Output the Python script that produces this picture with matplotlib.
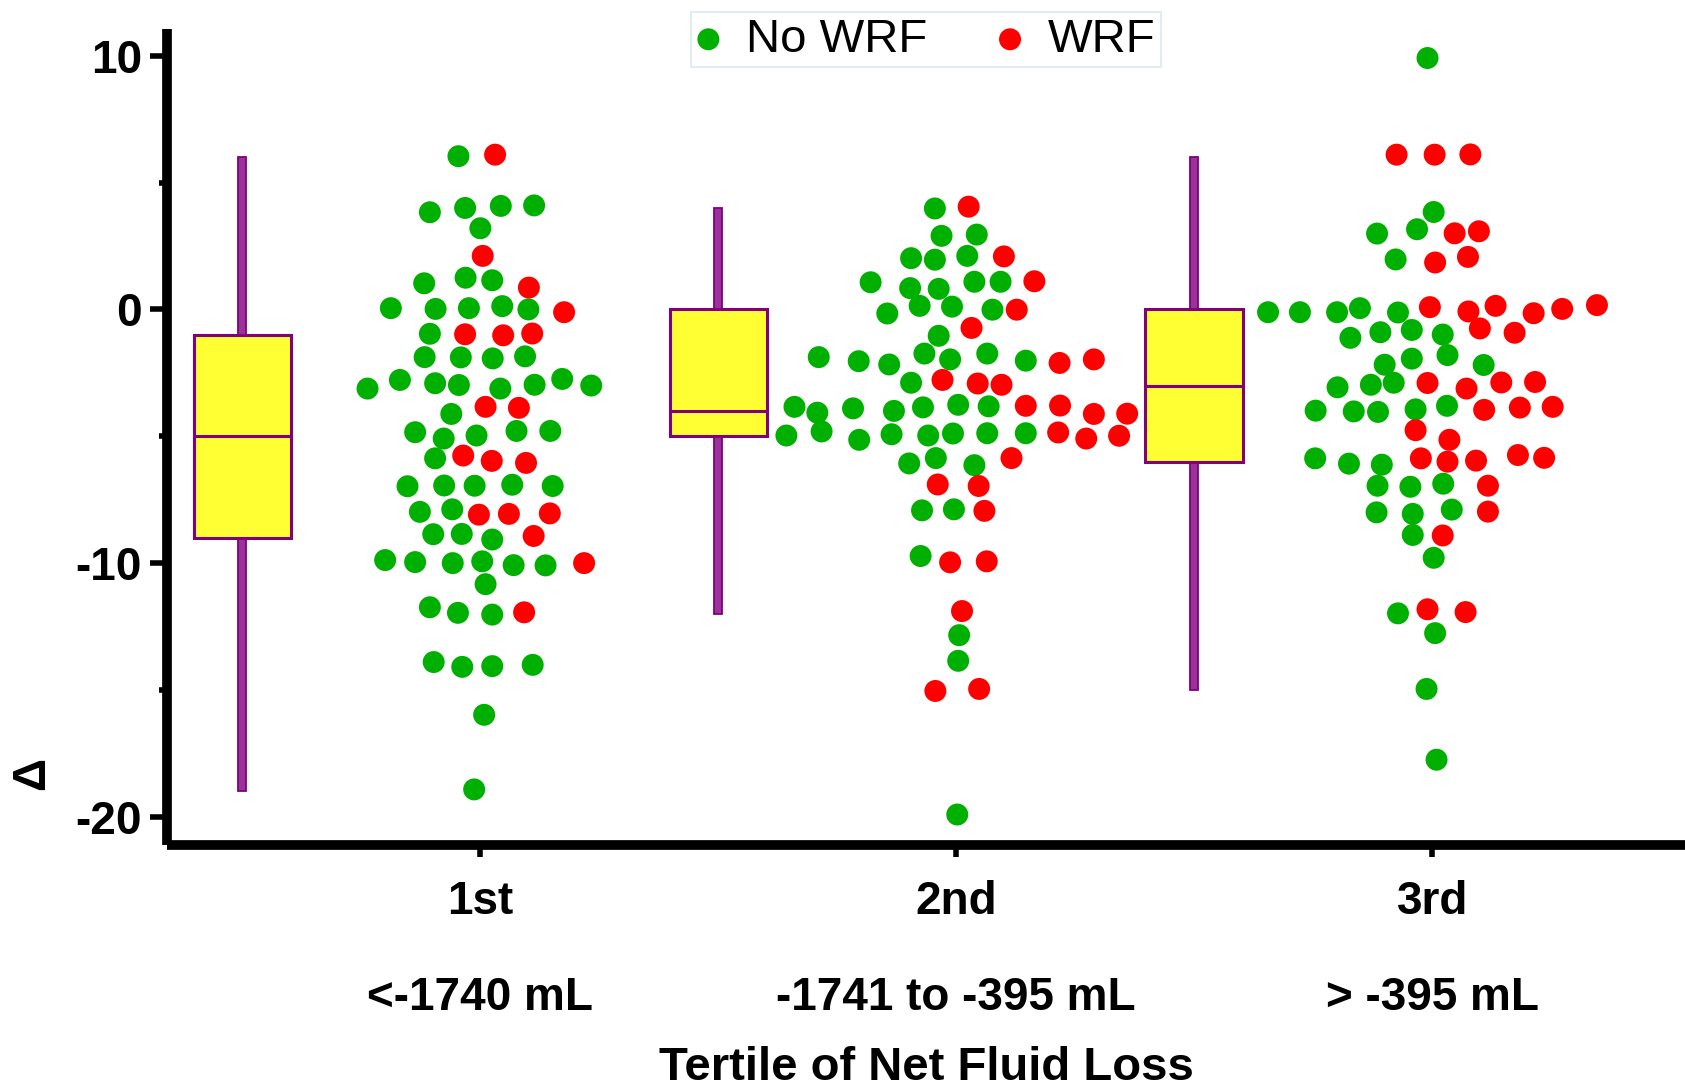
import matplotlib
matplotlib.use('Agg')
import matplotlib.pyplot as plt
import numpy as np
from matplotlib.ticker import MultipleLocator

plt.rcParams['font.family'] = ['Liberation Sans', 'DejaVu Sans']
plt.rcParams['axes.unicode_minus'] = False

categories = ['1st', '2nd', '3rd']
ranges = ['<-1740 mL', '-1741 to -395 mL', '> -395 mL']
series_names = ['No WRF', 'WRF']

# Box summary per tertile (drawn left of each swarm)
box_q1 = [-9, -5, -6]
box_med = [-5, -4, -3]
box_q3 = [-1, 0, 0]
whisk_lo = [-19, -12, -15]
whisk_hi = [6, 4, 6]

# Tertile 1 - No WRF: values and horizontal swarm offsets
t1_no_y = [6.04, 3.83, 4.00, 4.08, 4.10, 3.20, 1.03, 1.25, 1.15, 0.05, 0.02, 0.05, 0.13, 0.00,
           -0.96, -1.88, -1.89, -1.93, -1.85, -3.12, -2.78, -2.91, -2.98, -3.12, -2.97, -2.74,
           -3.00, -4.12, -4.84, -5.09, -4.97, -4.79, -4.79, -5.87, -6.97, -6.94, -6.95, -6.91,
           -6.96, -7.98, -7.88, -8.86, -8.85, -9.07, -9.88, -9.96, -10.00, -9.93, -10.08, -10.09,
           -10.83, -11.74, -11.96, -12.03, -13.90, -14.09, -14.06, -14.01, -15.98, -18.92]
t1_no_dx = [-0.046, -0.106, -0.032, 0.043, 0.113, 0.000, -0.118, -0.031, 0.025, -0.188, -0.094,
            -0.024, 0.046, 0.101, -0.106, -0.117, -0.041, 0.026, 0.094, -0.237, -0.169, -0.095,
            -0.045, 0.042, 0.114, 0.172, 0.233, -0.061, -0.137, -0.077, -0.008, 0.076, 0.147,
            -0.095, -0.153, -0.076, -0.012, 0.067, 0.152, -0.127, -0.059, -0.099, -0.039, 0.025,
            -0.200, -0.137, -0.058, 0.004, 0.070, 0.137, 0.011, -0.106, -0.047, 0.025, -0.098,
            -0.038, 0.025, 0.110, 0.008, -0.013]
# Tertile 1 - WRF
t1_wrf_y = [6.10, 2.11, 0.86, -0.11, -0.98, -1.02, -0.95, -3.84, -3.88, -5.76, -5.97, -6.05,
            -8.09, -8.06, -8.04, -8.93, -10.00, -11.94]
t1_wrf_dx = [0.031, 0.005, 0.102, 0.176, -0.032, 0.048, 0.109, 0.011, 0.081, -0.036, 0.024,
             0.096, -0.003, 0.060, 0.146, 0.112, 0.218, 0.092]

# Tertile 2 - No WRF
t2_no_y = [3.98, 2.90, 2.95, 2.02, 1.96, 2.11, 1.07, 0.84, 0.81, 1.09, 1.09, -0.16, 0.14, 0.11,
           -0.01, -1.04, -1.88, -2.04, -2.17, -1.74, -1.97, -1.74, -2.02, -2.89, -3.84, -4.07,
           -3.90, -4.00, -3.86, -3.76, -3.82, -4.97, -4.81, -5.14, -4.92, -4.97, -4.89, -4.88,
           -4.88, -6.07, -5.86, -6.14, -7.92, -7.88, -9.72, -12.84, -13.85, -19.91]
t2_no_dx = [-0.045, -0.031, 0.043, -0.095, -0.045, 0.023, -0.180, -0.097, -0.037, 0.038, 0.093,
            -0.145, -0.077, -0.009, 0.076, -0.037, -0.289, -0.205, -0.141, -0.067, -0.013, 0.065,
            0.146, -0.095, -0.340, -0.292, -0.217, -0.131, -0.070, 0.004, 0.068, -0.357, -0.283,
            -0.204, -0.136, -0.059, -0.007, 0.065, 0.146, -0.099, -0.043, 0.038, -0.072, -0.005,
            -0.075, 0.006, 0.004, 0.002]
# Tertile 2 - WRF
t2_wrf_y = [4.05, 2.09, 1.11, -0.01, -0.73, -2.11, -1.97, -2.78, -2.92, -2.97, -3.80, -3.79,
            -4.12, -4.11, -4.85, -5.09, -4.98, -5.86, -6.90, -6.96, -7.94, -9.97, -9.93, -11.89,
            -15.04, -14.96]
t2_wrf_dx = [0.026, 0.100, 0.164, 0.127, 0.032, 0.217, 0.289, -0.029, 0.045, 0.095, 0.146, 0.218,
             0.289, 0.359, 0.214, 0.273, 0.342, 0.116, -0.039, 0.047, 0.059, -0.013, 0.064, 0.012,
             -0.044, 0.048]

# Tertile 3 - No WRF
t3_no_y = [9.91, 3.84, 2.99, 3.16, 1.97, -0.11, -0.11, -0.11, 0.05, -0.12, -1.12, -0.90, -0.81,
           -0.99, -2.18, -1.94, -1.80, -2.19, -3.07, -2.97, -2.89, -3.99, -4.02, -4.04, -3.94,
           -3.80, -5.87, -6.08, -6.12, -6.95, -6.99, -6.87, -8.00, -8.06, -7.89, -8.89, -9.79,
           -11.98, -12.76, -14.96, -17.75]
t3_no_dx = [-0.010, 0.003, -0.116, -0.032, -0.077, -0.345, -0.278, -0.200, -0.152, -0.072, -0.172,
            -0.109, -0.043, 0.022, -0.100, -0.043, 0.032, 0.108, -0.199, -0.129, -0.081, -0.245,
            -0.165, -0.114, -0.035, 0.031, -0.246, -0.175, -0.106, -0.115, -0.046, 0.023, -0.117,
            -0.041, 0.041, -0.041, 0.003, -0.072, 0.006, -0.012, 0.009]
# Tertile 3 - WRF
t3_wrf_y = [6.10, 6.10, 6.11, 3.00, 3.08, 1.85, 2.07, 0.09, -0.08, 0.14, -0.15, 0.02, 0.17, -0.75,
            -0.92, -2.90, -3.12, -2.88, -2.86, -3.96, -3.87, -3.84, -4.76, -5.14, -5.87, -6.00,
            -5.96, -5.74, -5.85, -6.95, -7.97, -8.91, -11.82, -11.93]
t3_wrf_dx = [-0.075, 0.005, 0.080, 0.047, 0.098, 0.006, 0.075, -0.005, 0.076, 0.133, 0.213, 0.273,
             0.346, 0.100, 0.173, -0.010, 0.072, 0.145, 0.216, 0.109, 0.184, 0.253, -0.035, 0.036,
             -0.024, 0.032, 0.092, 0.180, 0.235, 0.117, 0.117, 0.022, -0.010, 0.070]

GREEN = '#00B000'
RED = '#FF0000'

fig = plt.figure(figsize=(16.85, 10.87), dpi=100)
ax = fig.add_axes([0.0992, 0.2229, 1 - 0.0992, 0.7501])

cat_x = np.arange(len(categories))
box_x = cat_x - 0.5

# whiskers as thin bars
ax.bar(box_x, np.array(whisk_hi) - np.array(whisk_lo), bottom=whisk_lo, width=0.017,
       color='#993399', edgecolor='#800080', linewidth=1.3, zorder=1.5)

stats = [dict(med=m, q1=a, q3=b, whislo=lo, whishi=hi, fliers=[])
         for m, a, b, lo, hi in zip(box_med, box_q1, box_q3, whisk_lo, whisk_hi)]
ax.bxp(stats, positions=box_x, widths=0.205, patch_artist=True, showcaps=False,
       showfliers=False, manage_ticks=False,
       boxprops=dict(facecolor='#FFFF33', edgecolor='#800080', linewidth=2.2),
       medianprops=dict(color='#800080', linewidth=2.2),
       whiskerprops=dict(linewidth=0), zorder=2)

no_y = [t1_no_y, t2_no_y, t3_no_y]
no_dx = [t1_no_dx, t2_no_dx, t3_no_dx]
wrf_y = [t1_wrf_y, t2_wrf_y, t3_wrf_y]
wrf_dx = [t1_wrf_dx, t2_wrf_dx, t3_wrf_dx]

h_no = h_wrf = None
for i in range(len(categories)):
    h_no = ax.scatter(cat_x[i] + np.array(no_dx[i]), no_y[i], s=250, color=GREEN,
                      edgecolors='none', zorder=3)
for i in range(len(categories)):
    h_wrf = ax.scatter(cat_x[i] + np.array(wrf_dx[i]), wrf_y[i], s=250, color=RED,
                       edgecolors='none', zorder=3)

ax.set_xlim(-0.658, 2.531)
ax.set_ylim(-21.10, 11.04)

for side in ['top', 'right']:
    ax.spines[side].set_visible(False)
for side in ['left', 'bottom']:
    ax.spines[side].set_linewidth(7)
    ax.spines[side].set_capstyle('butt')

ax.yaxis.set_major_locator(MultipleLocator(10))
ax.yaxis.set_minor_locator(MultipleLocator(5))
ax.tick_params(axis='y', which='major', length=11.9, width=4, pad=6.3, labelsize=33)
ax.tick_params(axis='y', which='minor', length=5.7, width=4)
ax.set_xticks(cat_x, categories)
ax.tick_params(axis='x', which='major', length=8.6, width=4, pad=17, labelsize=33)
for lbl in ax.get_yticklabels() + ax.get_xticklabels():
    lbl.set_fontweight('bold')

for i, r in enumerate(ranges):
    ax.text(cat_x[i], -0.2027, r, transform=ax.get_xaxis_transform(), ha='center',
            va='baseline', fontsize=33, fontweight='bold')

ax.set_xlabel('Tertile of Net Fluid Loss', fontsize=34, fontweight='bold')
ax.xaxis.set_label_coords(0.5, -0.2465)
ax.set_ylabel('\u0394', fontsize=33, fontweight='bold', va='center', ha='center')
ax.yaxis.set_label_coords(-0.0889, 0.0875)

leg = fig.legend([h_no, h_wrf], series_names, loc='upper center',
                 bbox_to_anchor=(926 / 1685, 1 - 12 / 1087), ncol=2, fontsize=34,
                 frameon=True, fancybox=False, edgecolor='#e3ebef', framealpha=1,
                 borderpad=0.12, handlelength=0.5, handletextpad=0.55, columnspacing=1.5,
                 borderaxespad=0, scatterpoints=1)
leg.get_frame().set_linewidth(1.5)

fig.savefig('out.png', dpi=100)
